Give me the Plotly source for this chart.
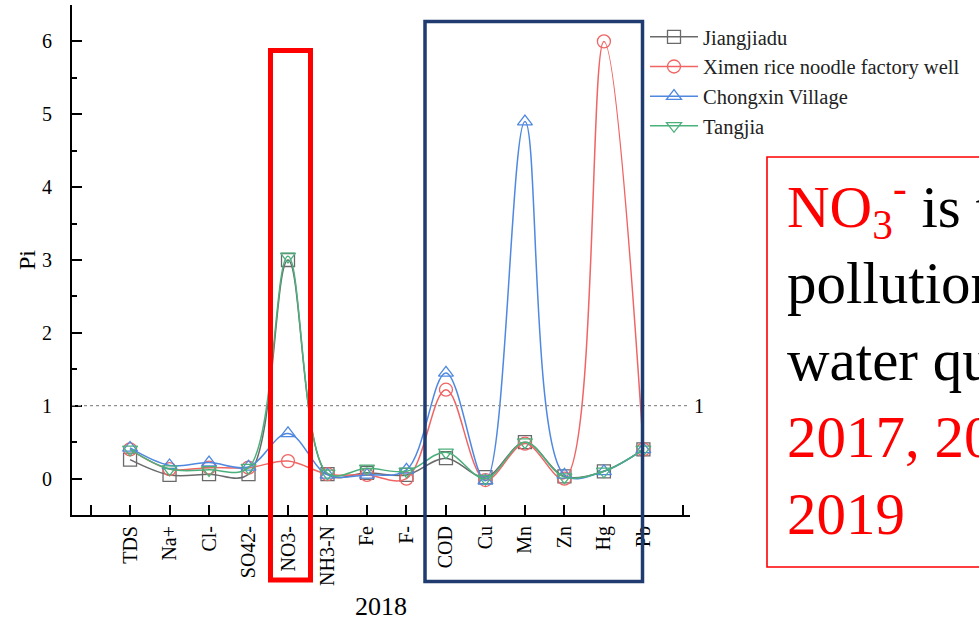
import plotly.graph_objects as go

# Pollution index (Pi) of each indicator at four sampling sites, 2018
indicators = ["TDS", "Na+", "Cl-", "SO42-", "NO3-", "NH3-N", "Fe", "F-",
              "COD", "Cu", "Mn", "Zn", "Hg", "Pb"]
jiangjiadu = [0.26, 0.05, 0.06, 0.06, 3.00, 0.06, 0.08, 0.05, 0.28, 0.02, 0.50, 0.03, 0.10, 0.40]
ximen_well = [0.40, 0.13, 0.15, 0.15, 0.24, 0.06, 0.05, 0.00, 1.22, -0.02, 0.48, 0.00, 6.00, 0.40]
chongxin = [0.42, 0.18, 0.22, 0.16, 0.62, 0.05, 0.05, 0.12, 1.45, -0.03, 4.90, 0.05, 0.10, 0.40]
tangjia = [0.40, 0.13, 0.12, 0.15, 3.05, 0.07, 0.14, 0.10, 0.36, 0.00, 0.50, 0.02, 0.10, 0.40]

site_names = ["Jiangjiadu", "Ximen rice noodle factory well", "Chongxin Village", "Tangjia"]
threshold = 1
year_label = "2018"

FONT = "Liberation Serif, Times New Roman, serif"
W, H = 979, 625
L, R, T, B = 72, 289, 5, 110
PW, PH = W - L - R, H - T - B


def px_x(p):
    return (p - L) / PW


def px_y(p):
    return (H - B - p) / PH


positions = list(range(1, len(indicators) + 1))
series = [
    (site_names[0], jiangjiadu, "#6a6a6a", "square-open"),
    (site_names[1], ximen_well, "#f06464", "circle-open"),
    (site_names[2], chongxin, "#4f88e0", "triangle-up-open"),
    (site_names[3], tangjia, "#4cb07c", "triangle-down-open"),
]

fig = go.Figure()
for name, vals, color, sym in series:
    fig.add_trace(go.Scatter(
        x=positions, y=vals, name=name, mode="lines+markers",
        line=dict(color=color, width=1.5, shape="spline", smoothing=1.0),
        marker=dict(symbol=sym, size=13, color=color, line=dict(width=1.3, color=color)),
    ))

fig.update_layout(
    width=W, height=H,
    margin=dict(l=L, r=R, t=T, b=B, pad=0),
    paper_bgcolor="white", plot_bgcolor="white",
    font=dict(family=FONT, color="black", size=20),
    showlegend=True,
    legend=dict(
        x=px_x(645), y=px_y(17), xanchor="left", yanchor="top",
        bgcolor="rgba(0,0,0,0)", font=dict(family=FONT, size=20.5, color="#222"),
        tracegroupgap=0, itemwidth=48,
    ),
    xaxis=dict(
        range=[-0.47, 15.18], tickmode="array", tickvals=positions, ticktext=indicators,
        tickangle=-90, ticks="inside", ticklen=10, tickwidth=1.5, tickcolor="black",
        minor=dict(tick0=0, dtick=1, ticks="inside", ticklen=10, tickwidth=1.5,
                   tickcolor="black"),
        showline=True, linecolor="black", linewidth=2, showgrid=False, zeroline=False,
        tickfont=dict(family=FONT, size=20), ticklabelstandoff=1,
        title=dict(text=year_label, font=dict(family=FONT, size=26), standoff=12),
    ),
    yaxis=dict(
        range=[-0.5, 6.5], dtick=1, tick0=0, ticks="inside", ticklen=10, tickwidth=1.5,
        tickcolor="black", showline=True, linecolor="black", linewidth=2,
        showgrid=False, zeroline=False,
        minor=dict(dtick=0.5, ticks="inside", ticklen=5, tickwidth=1.5, tickcolor="black"),
        tickfont=dict(family=FONT, size=20), ticklabelstandoff=14,
        title=dict(text="Pi", font=dict(family=FONT, size=24), standoff=0),
    ),
)

# reference level Pi = 1
fig.add_shape(type="line", xref="paper", yref="y", x0=0, x1=px_x(688),
              y0=threshold, y1=threshold,
              line=dict(color="#909090", width=1.3, dash="3px,3px"))
fig.add_annotation(xref="paper", yref="y", x=px_x(692), y=threshold, text=str(threshold),
                   showarrow=False, xanchor="left", yanchor="middle",
                   font=dict(family=FONT, size=20, color="black"))

# highlight boxes
fig.add_shape(type="rect", xref="paper", yref="paper",
              x0=px_x(270.5), x1=px_x(310.5), y0=px_y(580), y1=px_y(50.5),
              line=dict(color="#ff0000", width=5), fillcolor="rgba(0,0,0,0)")
fig.add_shape(type="rect", xref="paper", yref="paper",
              x0=px_x(425), x1=px_x(642.5), y0=px_y(581.5), y1=px_y(21.5),
              line=dict(color="#1f3b70", width=3.5), fillcolor="rgba(0,0,0,0)")

# note box
fig.add_shape(type="rect", xref="paper", yref="paper",
              x0=px_x(767), x1=px_x(1150), y0=px_y(567), y1=px_y(157),
              line=dict(color="#ff0000", width=1.6), fillcolor="rgba(0,0,0,0)")
note = ("<span style='color:#ff0000'>NO<sub>3</sub><sup>-</sup></span> is the main<br>"
        "pollution factor<br>"
        "water quality in<br>"
        "<span style='color:#ff0000'>2017, 2018 and</span><br>"
        "<span style='color:#ff0000'>2019</span>")
fig.add_annotation(xref="paper", yref="paper", x=px_x(785), y=px_y(163),
                   xanchor="left", yanchor="top", align="left", showarrow=False,
                   text=note, font=dict(family=FONT, size=59, color="black"))

fig.write_html("out.html")
